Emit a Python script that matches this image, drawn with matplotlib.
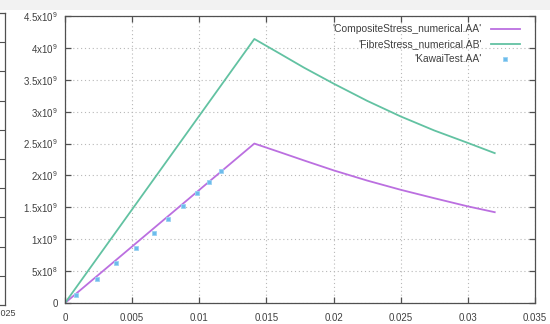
import numpy as np
import matplotlib.pyplot as plt
from matplotlib.patches import Rectangle

# numerical results (strain, stress in Pa)
strain_num = [0, 0.0141, 0.0160, 0.0178, 0.020, 0.0225, 0.025, 0.0275, 0.030, 0.032]
composite_stress = [0, 2.50e9, 2.365e9, 2.235e9, 2.08e9, 1.92e9, 1.775e9, 1.643e9, 1.515e9, 1.424e9]
fibre_stress = [0, 4.14e9, 3.91e9, 3.69e9, 3.44e9, 3.17e9, 2.925e9, 2.705e9, 2.51e9, 2.35e9]

# Kawai experiment
strain_test = [0.0008, 0.0024, 0.0038, 0.0053, 0.0066, 0.0077, 0.0088, 0.0098, 0.0107, 0.0116]
stress_test = [0.126e9, 0.377e9, 0.633e9, 0.859e9, 1.104e9, 1.319e9, 1.528e9, 1.722e9, 1.905e9, 2.07e9]

x_ticks = [0, 0.005, 0.01, 0.015, 0.02, 0.025, 0.03, 0.035]
x_ticklabels = ["0", "0.005", "0.01", "0.015", "0.02", "0.025", "0.03", "0.035"]
y_ticks = np.arange(0, 4.51e9, 0.5e9)
y_ticklabels = ["0", r"5x10$^8$", r"1x10$^9$", r"1.5x10$^9$", r"2x10$^9$", r"2.5x10$^9$",
                r"3x10$^9$", r"3.5x10$^9$", r"4x10$^9$", r"4.5x10$^9$"]

plt.rcParams['font.family'] = ['Liberation Sans', 'DejaVu Sans']
plt.rcParams['mathtext.fontset'] = 'custom'
plt.rcParams['mathtext.rm'] = 'Liberation Sans'
plt.rcParams['mathtext.it'] = 'Liberation Sans'

W, H = 550, 324
fig = plt.figure(figsize=(W / 100, H / 100), dpi=100)
fig.patch.set_facecolor('white')
fig.add_artist(Rectangle((0, 1 - 10 / H), 1, 10 / H, transform=fig.transFigure,
                         facecolor='#f2f2f2', edgecolor='none', zorder=0))

text_col = '#404040'
frame_col = '#505050'

# neighbouring plot, only its right edge is in view
left, right, bottom, top = -465, 5, 19, 311
side = fig.add_axes([left / W, bottom / H, (right - left) / W, (top - bottom) / H])
side.set_xlim(0, 0.025)
side.set_ylim(0, 10)
side.set_xticks([0.025])
side.set_xticklabels(["0.025"], fontsize=6.5, color=text_col)
side.set_yticks(range(1, 10))
side.yaxis.tick_right()
side.tick_params(axis='y', direction='in', length=4, color=frame_col, labelright=False)
side.tick_params(axis='x', direction='in', length=0, pad=3)
for s in side.spines.values():
    s.set_color(frame_col)
    s.set_linewidth(0.9)

left, right, bottom, top = 65, 535, 21, 308
ax = fig.add_axes([left / W, bottom / H, (right - left) / W, (top - bottom) / H])

ax.plot(strain_num, composite_stress, color='#bb6fe0', lw=1.3,
        label="'CompositeStress_numerical.AA'")
ax.plot(strain_num, fibre_stress, color='#62c2a2', lw=1.3,
        label="'FibreStress_numerical.AB'")
ax.plot(strain_test, stress_test, ls='none', marker='s', ms=3.0, color='#6cbcec',
        markeredgecolor='#9ad2f2', markeredgewidth=0.6, label="'KawaiTest.AA'")

ax.set_xlim(0, 0.035)
ax.set_ylim(0, 4.5e9)
ax.set_xticks(x_ticks)
ax.set_xticklabels(x_ticklabels)
ax.set_yticks(y_ticks)
ax.set_yticklabels(y_ticklabels)
ax.tick_params(direction='in', length=4, width=0.9, color=frame_col, labelcolor=text_col,
               labelsize=7, top=True, right=True, pad=5)
ax.tick_params(axis='x', pad=7)
for s in ax.spines.values():
    s.set_color(frame_col)
    s.set_linewidth(0.9)
ax.grid(True, ls=(0, (1, 2.5)), color='#b8b8b8', lw=0.8)
ax.set_axisbelow(True)

leg = ax.legend(loc='upper right', frameon=False, markerfirst=False, fontsize=7.4,
                handlelength=2.8, handletextpad=0.9, labelspacing=0.5,
                borderaxespad=0.4, bbox_to_anchor=(0.985, 1.0))
for t in leg.get_texts():
    t.set_color(text_col)
    t.set_ha('right')

fig.savefig('out.png', dpi=100)
